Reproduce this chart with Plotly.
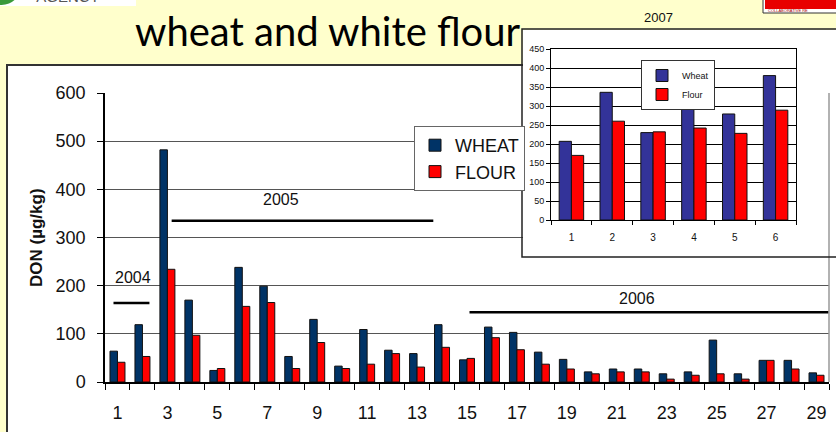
import plotly.graph_objects as go

W, H = 836, 432


def px(x):
    return x / W


def py(y):
    return 1 - y / H


# ---------------- data ----------------
samples = list(range(1, 30))
wheat = [64, 119, 482, 170, 24, 238, 199, 53, 130, 33, 109, 66, 59, 119, 46,
         114, 103, 62, 47, 21, 27, 27, 17, 21, 87, 17, 45, 45, 19]
flour = [41, 53, 234, 97, 28, 157, 165, 28, 82, 28, 37, 59, 31, 72, 49,
         92, 67, 37, 27, 17, 21, 21, 6, 14, 17, 6, 45, 27, 14]

samples_2007 = [1, 2, 3, 4, 5, 6]
wheat_2007 = [207, 336, 230, 314, 279, 380]
flour_2007 = [170, 260, 232, 242, 228, 289]

main_ticks = list(range(1, 30, 2))
main_yticks = [0, 100, 200, 300, 400, 500, 600]
inset_yticks = list(range(0, 451, 50))

# year spans (in sample / DON units)
year_labels = ["2004", "2005", "2006"]
year_start = [0.84, 3.17, 15.1]
year_end = [2.28, 13.65, 29.47]
year_level = [164, 335, 145]
year_label_x = [1.64, 7.55, 21.8]
year_label_y = [216, 378, 174]

FONT = "Arial, Liberation Sans, sans-serif"
NARROW = "Arial Narrow, Liberation Sans Narrow, Liberation Sans, sans-serif"

fig = go.Figure()

# main chart
fig.add_trace(go.Bar(x=samples, y=wheat, name="WHEAT", xaxis="x", yaxis="y",
                     marker=dict(color="#003366", line=dict(color="#111", width=1)),
                     legend="legend"))
fig.add_trace(go.Bar(x=samples, y=flour, name="FLOUR", xaxis="x", yaxis="y",
                     marker=dict(color="#FF0000", line=dict(color="#111", width=1)),
                     legend="legend"))

# cover subplot for the inset panel (white background only)
fig.add_trace(go.Scatter(x=[0], y=[0], xaxis="x2", yaxis="y2", mode="markers",
                         marker=dict(opacity=0), showlegend=False, hoverinfo="skip"))

# inset 2007 chart
fig.add_trace(go.Bar(x=samples_2007, y=wheat_2007, name="Wheat", xaxis="x3", yaxis="y3",
                     marker=dict(color="#333399", line=dict(color="#111", width=1)),
                     legend="legend2"))
fig.add_trace(go.Bar(x=samples_2007, y=flour_2007, name="Flour", xaxis="x3", yaxis="y3",
                     marker=dict(color="#FF0000", line=dict(color="#111", width=1)),
                     legend="legend2"))

# cut-off agency logo text (clipped by its own small white panel, as in the slide)
fig.add_trace(go.Scatter(x=[0.5], y=[1.3], xaxis="x4", yaxis="y4", mode="text",
                         text=["AGENCY"], textposition="middle center", cliponaxis=True,
                         textfont=dict(family=FONT, size=15, color="#555"),
                         showlegend=False, hoverinfo="skip"))

shapes = []
annotations = []

# main white frame
shapes.append(dict(type="rect", xref="paper", yref="paper", layer="below",
                   x0=px(7), x1=1.05, y0=-0.05, y1=py(65),
                   fillcolor="white", line=dict(color="#333", width=2)))
# right border of main plot area
shapes.append(dict(type="line", xref="x domain", yref="y domain", x0=1, x1=1, y0=0, y1=1,
                   line=dict(color="#999", width=1.5)))
# inset frame
shapes.append(dict(type="path", xref="paper", yref="paper", layer="above",
                   path=f"M 1.02 {py(29)} L {px(522)} {py(29)} L {px(522)} {py(257)} L 1.02 {py(257)}",
                   line=dict(color="#222", width=1.5)))

# year spans
for lab, s, e, lv, lx, ly in zip(year_labels, year_start, year_end, year_level,
                                 year_label_x, year_label_y):
    shapes.append(dict(type="line", xref="x", yref="y", x0=s, x1=e, y0=lv, y1=lv,
                       line=dict(color="black", width=2.5)))
    annotations.append(dict(x=lx, y=ly, xref="x", yref="y", text=lab, showarrow=False,
                            xanchor="center", yanchor="middle",
                            font=dict(family=FONT, size=16, color="#111")))

# logos (top corners)
shapes.append(dict(type="circle", xref="paper", yref="paper", x0=px(-18), x1=px(21),
                   y0=py(5), y1=py(-34), fillcolor="#3a9a3a", line=dict(width=0)))
shapes.append(dict(type="rect", xref="paper", yref="paper", x0=px(763), x1=1.02,
                   y0=py(13), y1=1.02, fillcolor="white", line=dict(color="#333", width=1)))
shapes.append(dict(type="rect", xref="paper", yref="paper", x0=px(765), x1=1.02,
                   y0=py(9), y1=1.02, fillcolor="#e80000", line=dict(width=0)))
annotations.append(dict(x=px(766), y=py(11), xref="paper", yref="paper",
                        text="COLLABORATIVE RE", showarrow=False,
                        xanchor="left", yanchor="middle",
                        font=dict(family=FONT, size=4, color="#a00")))

# title and texts
annotations.append(dict(x=px(328), y=py(31), xref="paper", yref="paper",
                        text="wheat and white flour", showarrow=False,
                        xanchor="center", yanchor="middle",
                        font=dict(family="Lato, Open Sans, sans-serif", size=40, color="black")))
annotations.append(dict(x=px(658), y=py(17), xref="paper", yref="paper", text="2007",
                        showarrow=False, xanchor="center", yanchor="middle",
                        font=dict(family=NARROW, size=13, color="#111")))
annotations.append(dict(x=px(36), y=py(238), xref="paper", yref="paper",
                        text="<b>DON (µg/kg)</b>", textangle=-90, showarrow=False,
                        xanchor="center", yanchor="middle",
                        font=dict(family=FONT, size=17, color="#111")))

hidden = dict(showgrid=False, zeroline=False, showticklabels=False, ticks="",
              showline=False, fixedrange=True, range=[0, 1])

fig.update_layout(
    width=W, height=H,
    autosize=False,
    margin=dict(l=0, r=0, t=0, b=0, autoexpand=False),
    paper_bgcolor="#FFFFCC",
    plot_bgcolor="white",
    barmode="group",
    bargap=0.4,
    bargroupgap=0,
    shapes=shapes,
    annotations=annotations,
    xaxis=dict(domain=[px(105), px(829)], range=[0.5, 29.5], anchor="y",
               tickvals=main_ticks, ticks="", showgrid=False, zeroline=False,
               showline=True, linecolor="black", linewidth=1.5,
               ticklabelstandoff=14, automargin=False,
               minor=dict(tick0=0.5, dtick=1, ticks="outside", ticklen=6,
                          tickcolor="black", showgrid=False),
               tickfont=dict(family=FONT, size=18, color="#111")),
    yaxis=dict(domain=[py(382), py(93)], range=[0, 600], anchor="x",
               tickvals=main_yticks, ticks="outside", ticklen=6, tickcolor="black",
               showgrid=True, gridcolor="#555", gridwidth=1, zeroline=False,
               showline=True, linecolor="black", linewidth=1.5,
               ticklabelstandoff=8, automargin=False,
               tickfont=dict(family=FONT, size=18, color="#111")),
    xaxis2=dict(domain=[px(523), 1], anchor="y2", **hidden),
    yaxis2=dict(domain=[py(256), py(30)], anchor="x2", **hidden),
    xaxis3=dict(domain=[px(551), px(796)], range=[0.5, 6.5], anchor="y3",
                tickvals=samples_2007, ticks="", showgrid=False, zeroline=False,
                showline=True, mirror=True, linecolor="black", linewidth=1,
                ticklabelstandoff=8, automargin=False,
                minor=dict(tick0=0.5, dtick=1, ticks="outside", ticklen=4,
                           tickcolor="black", showgrid=False),
                tickfont=dict(family=NARROW, size=10, color="#111")),
    yaxis3=dict(domain=[py(220), py(49)], range=[0, 450], anchor="x3",
                tickvals=inset_yticks, ticks="outside", ticklen=4, tickcolor="black",
                showgrid=True, gridcolor="black", gridwidth=1, zeroline=False,
                showline=True, mirror=True, linecolor="black", linewidth=1,
                automargin=False,
                tickfont=dict(family=NARROW, size=9, color="#111")),
    xaxis4=dict(domain=[0, px(136)], anchor="y4", **hidden),
    yaxis4=dict(domain=[py(6), 1], anchor="x4", **hidden),
    legend=dict(x=px(414), y=py(126), xanchor="left", yanchor="top",
                bgcolor="white", bordercolor="#666", borderwidth=1,
                font=dict(family=FONT, size=18, color="#111"),
                itemwidth=30, tracegroupgap=0),
    legend2=dict(x=px(641), y=py(60), xanchor="left", yanchor="top",
                 bgcolor="white", bordercolor="#333", borderwidth=1,
                 font=dict(family=NARROW, size=9, color="#111"),
                 itemwidth=30, tracegroupgap=0),
    showlegend=True,
)

fig.write_html(
    "out.html",
    config={"responsive": False, "displayModeBar": False},
    default_width=f"{W}px",
    default_height=f"{H}px",
    post_script="document.body.style.margin='0';document.body.style.padding='0';"
                "document.body.style.overflow='hidden';"
                "document.documentElement.style.overflow='hidden';",
)
